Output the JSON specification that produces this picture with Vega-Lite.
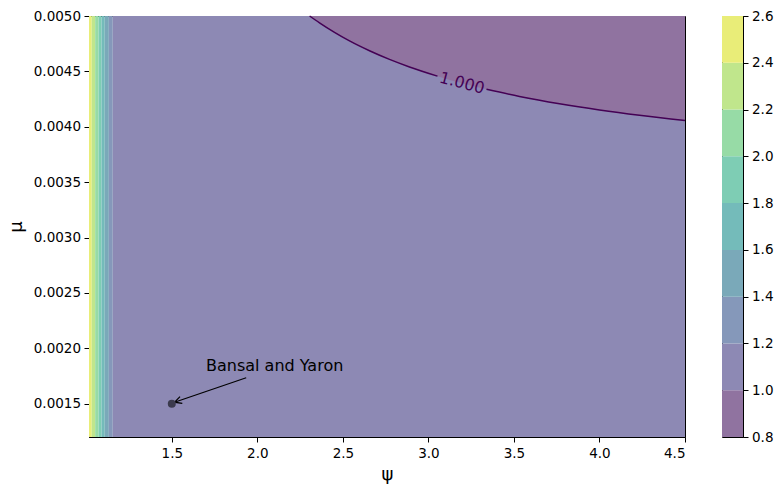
{
  "$schema": "https://vega.github.io/schema/vega-lite/v6.json",
  "background": "white",
  "padding": {"left": 6, "top": 8, "right": 5, "bottom": 5},
  "autosize": {"type": "pad"},
  "bounds": "flush",
  "spacing": 37,
  "config": {
    "font": "DejaVu Sans",
    "view": {"stroke": "#000000", "strokeWidth": 1},
    "axis": {
      "labelFont": "DejaVu Sans", "labelFontSize": 13.5, "labelColor": "#000000",
      "titleFont": "DejaVu Sans", "titleFontSize": 18, "titleFontWeight": "normal", "titleColor": "#000000",
      "tickColor": "#000000", "domainColor": "#000000", "tickSize": 5, "labelPadding": 4, "grid": false, "zindex": 1
    }
  },
  "datasets": {
    "bands": [
      {"level": "2.4-2.6", "lo": 1.016, "hi": 1.032},
      {"level": "2.2-2.4", "lo": 1.032, "hi": 1.052},
      {"level": "2.0-2.2", "lo": 1.052, "hi": 1.072},
      {"level": "1.8-2.0", "lo": 1.072, "hi": 1.089},
      {"level": "1.6-1.8", "lo": 1.089, "hi": 1.108},
      {"level": "1.4-1.6", "lo": 1.108, "hi": 1.132},
      {"level": "1.2-1.4", "lo": 1.132, "hi": 1.155},
      {"level": "1.0-1.2", "lo": 1.155, "hi": 4.5}
    ],
    "curve": [
      {"seg": 1, "psi": 2.3055, "mu": 0.00500},
      {"seg": 1, "psi": 2.3634, "mu": 0.004938},
      {"seg": 1, "psi": 2.4511, "mu": 0.004852},
      {"seg": 1, "psi": 2.5388, "mu": 0.004775},
      {"seg": 1, "psi": 2.6557, "mu": 0.004686},
      {"seg": 1, "psi": 2.7726, "mu": 0.004608},
      {"seg": 1, "psi": 2.8895, "mu": 0.004540},
      {"seg": 1, "psi": 3.0532, "mu": 0.004457},
      {"seg": 2, "psi": 3.3396, "mu": 0.004338},
      {"seg": 2, "psi": 3.5325, "mu": 0.004274},
      {"seg": 2, "psi": 3.7663, "mu": 0.004208},
      {"seg": 2, "psi": 4.0002, "mu": 0.004152},
      {"seg": 2, "psi": 4.2340, "mu": 0.004104},
      {"seg": 2, "psi": 4.5000, "mu": 0.004057}
    ],
    "arrow": [
      {"part": "shaft", "o": 0, "psi": 1.935, "mu": 0.001735},
      {"part": "shaft", "o": 1, "psi": 1.5158, "mu": 0.001514},
      {"part": "head", "o": 0, "psi": 1.5614, "mu": 0.001504},
      {"part": "head", "o": 1, "psi": 1.5158, "mu": 0.001514},
      {"part": "head", "o": 2, "psi": 1.548, "mu": 0.001565}
    ],
    "cbar": [
      {"level": "0.8-1.0", "lo": 0.8, "hi": 1.0},
      {"level": "1.0-1.2", "lo": 1.0, "hi": 1.2},
      {"level": "1.2-1.4", "lo": 1.2, "hi": 1.4},
      {"level": "1.4-1.6", "lo": 1.4, "hi": 1.6},
      {"level": "1.6-1.8", "lo": 1.6, "hi": 1.8},
      {"level": "1.8-2.0", "lo": 1.8, "hi": 2.0},
      {"level": "2.0-2.2", "lo": 2.0, "hi": 2.2},
      {"level": "2.2-2.4", "lo": 2.2, "hi": 2.4},
      {"level": "2.4-2.6", "lo": 2.4, "hi": 2.6}
    ]
  },
  "hconcat": [
    {
      "width": 596,
      "height": 421,
      "layer": [
        {
          "data": {"name": "bands"},
          "mark": {"type": "rect"},
          "encoding": {
            "x": {"field": "lo", "type": "quantitative", "scale": {"domain": [1.016, 4.5], "nice": false, "zero": false},
                  "axis": {"title": "ψ", "values": [1.5, 2.0, 2.5, 3.0, 3.5, 4.0, 4.5], "format": ".1f", "titlePadding": 6}},
            "x2": {"field": "hi"},
            "y": {"datum": 0.0012, "type": "quantitative", "scale": {"domain": [0.0012, 0.005], "nice": false, "zero": false},
                  "axis": {"title": "μ", "values": [0.0015, 0.002, 0.0025, 0.003, 0.0035, 0.004, 0.0045, 0.005], "format": ".4f", "titlePadding": 8, "labelPadding": 3.5}},
            "y2": {"datum": 0.005},
            "color": {"field": "level", "type": "nominal", "legend": null,
                      "scale": {"domain": ["0.8-1.0", "1.0-1.2", "1.2-1.4", "1.4-1.6", "1.6-1.8", "1.8-2.0", "2.0-2.2", "2.2-2.4", "2.4-2.6"],
                                "range": ["#9073a0", "#8d89b4", "#8598ba", "#7aa9b9", "#74bbba", "#7ecdb4", "#97dba6", "#c0e68c", "#e9ed78"]}}
          }
        },
        {
          "data": {"name": "curve"},
          "mark": {"type": "area", "interpolate": "monotone", "color": "#9073a0"},
          "encoding": {
            "x": {"field": "psi", "type": "quantitative"},
            "y": {"field": "mu", "type": "quantitative"},
            "y2": {"datum": 0.005}
          }
        },
        {
          "data": {"name": "curve"},
          "mark": {"type": "line", "interpolate": "monotone", "color": "#440154", "strokeWidth": 1.5},
          "encoding": {
            "x": {"field": "psi", "type": "quantitative"},
            "y": {"field": "mu", "type": "quantitative"},
            "detail": {"field": "seg", "type": "nominal"}
          }
        },
        {
          "data": {"values": [{"psi": 3.1964, "mu": 0.004393, "label": "1.000"}]},
          "mark": {"type": "text", "angle": 15, "align": "center", "baseline": "middle", "fontSize": 16, "color": "#440154", "font": "DejaVu Sans"},
          "encoding": {
            "x": {"field": "psi", "type": "quantitative"},
            "y": {"field": "mu", "type": "quantitative"},
            "text": {"field": "label"}
          }
        },
        {
          "data": {"name": "arrow"},
          "mark": {"type": "line", "color": "#000000", "strokeWidth": 1.2},
          "encoding": {
            "x": {"field": "psi", "type": "quantitative"},
            "y": {"field": "mu", "type": "quantitative"},
            "detail": {"field": "part", "type": "nominal"},
            "order": {"field": "o", "type": "quantitative"}
          }
        },
        {
          "data": {"values": [{"psi": 1.5, "mu": 0.0015}]},
          "mark": {"type": "circle", "size": 64, "color": "#3b3a4d", "opacity": 1},
          "encoding": {
            "x": {"field": "psi", "type": "quantitative"},
            "y": {"field": "mu", "type": "quantitative"}
          }
        },
        {
          "data": {"values": [{"psi": 1.7, "mu": 0.0018, "label": "Bansal and Yaron"}]},
          "mark": {"type": "text", "align": "left", "baseline": "alphabetic", "fontSize": 16, "color": "#000000", "font": "DejaVu Sans"},
          "encoding": {
            "x": {"field": "psi", "type": "quantitative"},
            "y": {"field": "mu", "type": "quantitative"},
            "text": {"field": "label"}
          }
        }
      ]
    },
    {
      "width": 21,
      "height": 421,
      "layer": [
        {
          "data": {"name": "cbar"},
          "mark": {"type": "rect"},
          "encoding": {
            "x": {"datum": 0, "type": "quantitative", "scale": {"domain": [0, 1]}, "axis": null},
            "x2": {"datum": 1},
            "y": {"field": "lo", "type": "quantitative", "scale": {"domain": [0.8, 2.6], "nice": false, "zero": false},
                  "axis": {"orient": "right", "title": null, "values": [0.8, 1.0, 1.2, 1.4, 1.6, 1.8, 2.0, 2.2, 2.4, 2.6], "format": ".1f", "labelPadding": 3.5}},
            "y2": {"field": "hi"},
            "color": {"field": "level", "type": "nominal", "legend": null,
                      "scale": {"domain": ["0.8-1.0", "1.0-1.2", "1.2-1.4", "1.4-1.6", "1.6-1.8", "1.8-2.0", "2.0-2.2", "2.2-2.4", "2.4-2.6"],
                                "range": ["#9073a0", "#8d89b4", "#8598ba", "#7aa9b9", "#74bbba", "#7ecdb4", "#97dba6", "#c0e68c", "#e9ed78"]}}
          }
        },
        {
          "mark": {"type": "rule", "color": "#4b5a92", "strokeWidth": 1},
          "encoding": {"y": {"datum": 1.2, "type": "quantitative"}}
        },
        {
          "mark": {"type": "rule", "color": "#86d07c", "strokeWidth": 1},
          "encoding": {"y": {"datum": 2.2, "type": "quantitative"}}
        }
      ]
    }
  ]
}
